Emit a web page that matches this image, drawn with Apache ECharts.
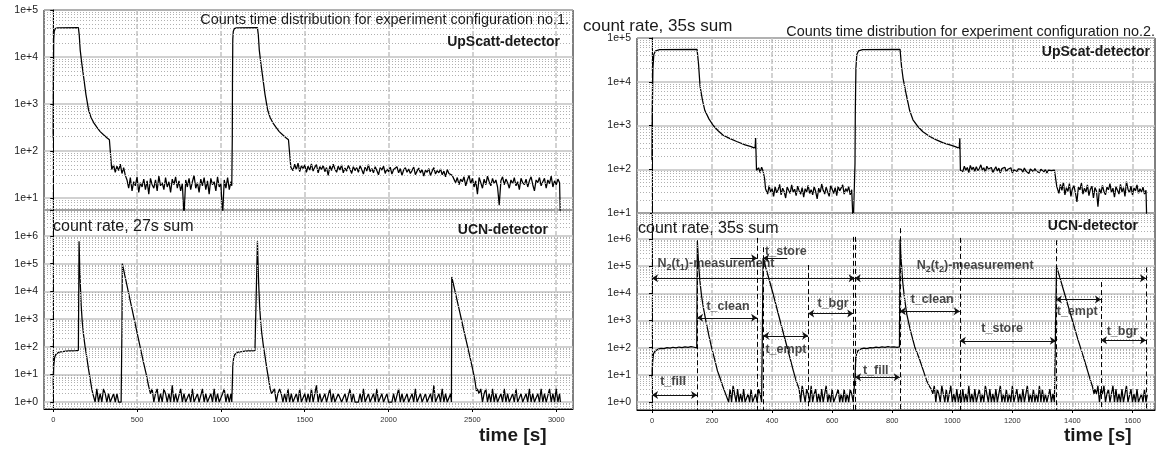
<!DOCTYPE html>
<html><head><meta charset="utf-8">
<script src="https://cdn.jsdelivr.net/npm/echarts@6/dist/echarts.min.js"></script>
<style>html,body{margin:0;padding:0;background:#fff}#c{width:1157px;height:450px}</style>
</head><body><div id="c"></div>
<script>
// ---------- DATA ----------
// bin widths (s) of the noisy histogram sections
const BIN1 = 10;   // configuration no.1
const BIN2 = 5;    // configuration no.2

// Configuration 1, UpScatt-detector
const up1_fill1 = [[0,190],[1,2500],[3,24000],[6,35000],[12,40000],[25,41500],[150,42000],[155,30000],[161,14000],[170,7500],[181,3800],[195,1600],[211,740],[225,520],[241,400],[260,320],[280,257],[300,220],[320,190],[335,172],[346,158],[349,40]];
const up1_noise1_t0 = 350;
const up1_noise1 = [42,50,35,47,38,52,33,44,30];
const up1_noise2_t0 = 440;
const up1_noise2 = [24,16,27,14,22,18,28,13,21,17, 25,15,23,12,26,19,16,24,14,29, 18,21,15,27,17,22,13,25,19,28, 16,23,14,20,4,24,17,26,15,22, 30,16,21,13,25,18,27,15,23,12, 26,19,22,14,28,17,20,4,24,16, 27,15,22];
const up1_fill2 = [[1065,18],[1068,190],[1069,2500],[1071,24000],[1074,35000],[1080,40000],[1093,41500],[1218,42000],[1223,30000],[1229,14000],[1238,7500],[1249,3800],[1263,1600],[1279,740],[1293,520],[1309,400],[1328,320],[1348,257],[1368,220],[1388,190],[1403,172],[1414,158],[1417,45]];
const up1_noise3_t0 = 1420;
const up1_noise3 = [46,38,52,40,55,36,48,42,50,35, 47,39,53,37,45,51,34,46,40,49, 36,44,30,48,38,52,41,35,47,39, 50,34,43,37,49,41,33,46,38,44,
  35,48,40,32,45,37,51,36,42,34, 46,38,31,44,39,47,33,41,36,45, 32,40,37,46,34,42,30,39,44,35, 41,33,38,45,31,37,43,34,40,29,
  39,35,42,30,37,44,32,38,34,41, 31,37,28,40,33,36,30,25,21,27, 19,25,22,28,18,24,30,20,26,17, 23,12,27,21,16,25,19,29,22,18,
  26,20,24,17,7,23,28,19,25,21, 16,24,20,27,18,22,15,26,21,19, 25,17,23,28,19,14,24,21,27,18, 22,26,16,24,20,29,17,23,19,25, 21];
const up1_end = [[3025,3]];

// Configuration 1, UCN-detector
const ucn1_fill1 = [[0,4],[3,20],[8,40],[15,52],[25,60],[35,64],[45,68],[55,66],[65,71],[75,69],[85,73],[95,70],[105,74],[115,71],[125,75],[135,72],[145,76],[150,74],[154,640000],[158,80000],[162,15000],[167,3000],[173,800],[180,300],[190,100],[200,42],[210,16],[220,7],[230,3],[236,2]];
const ucn1_noise1_t0 = 240;
const ucn1_noise1 = [2,1,3,1,2,1,3,2,1,2,1,1,2,1,2,1,1];
const ucn1_empty1 = [[405,1],[410,1],[410,530],[412,100000],[450,8500],[480,1200],[510,170],[539,26],[555,10],[568,4]];
const ucn1_noise2_t0 = 580;
const ucn1_noise2 = [2,3,1,2,3,1,2,1,3,2, 1,2,1,4,1,2,1,1,3,1, 2,1,1,2,1,3,1,1,2,1, 1,3,1,2,1,1,2,1,3,1, 2,1,1,2,3,1,2,1,2];
const ucn1_fill2 = [[1065,1],[1068,4],[1071,20],[1076,40],[1083,52],[1093,60],[1103,64],[1113,68],[1123,66],[1133,71],[1143,69],[1153,73],[1163,70],[1173,74],[1183,71],[1193,75],[1203,72],[1210,76],[1214,74],[1218,640000],[1222,80000],[1226,15000],[1231,3000],[1237,800],[1244,300],[1254,100],[1264,42],[1274,16],[1284,7],[1294,3],[1302,2]];
const ucn1_noise3_t0 = 1310;
const ucn1_noise3 = [2,3,1,2,3,2,1,2,1,3, 1,2,1,1,2,1,3,1,1,2, 1,2,1,3,1,1,4,1,2,1, 1,2,1,1,3,1,2,1,1,2, 2,1,1,2,1,1,3,1,2,1,
  1,1,2,1,3,1,1,2,1,1, 2,1,3,1,1,2,1,1,2,1, 1,1,2,1,1,3,1,2,1,1, 2,1,1,2,1,3,1,1,2,1, 1,2,1,1,2,1,4,1,1,2, 1,3,1,2,1,1,2];
const ucn1_empty2 = [[2375,1],[2377,33000],[2400,8100],[2430,1260],[2460,200],[2490,32],[2503,14],[2515,6],[2524,2.5]];
const ucn1_noise4_t0 = 2530;
const ucn1_noise4 = [3,2,3,1,2,3,1,2,1,3, 1,2,1,1,2,1,3,1,2,1, 1,2,1,3,1,1,2,1,1,2, 1,3,1,2,1,1,2,1,3,1, 2,1,1,3,1,2,1,3,1,2];
const ucn1_end = [[3025,1]];

// Configuration 2, UpScat-detector
const up2_fill1 = [[0,162],[1,2000],[3,20000],[6,42000],[12,51000],[25,54000],[150,55000],[155,25000],[160,7800],[168,3800],[176,2200],[190,1400],[204,1000],[220,760],[237,600],[260,500],[282,430],[310,360],[330,330],[343,300],[345,520],[348,95]];
const up2_noise1_t0 = 350;
const up2_noise1 = [98,108,84,112,90];
const up2_drop1 = [[375,60],[378,36]];
const up2_noise2_t0 = 380;
const up2_noise2 = [38,27,42,30,36,24,40,29,34,45, 26,37,31,22,39,33,28,44,30,35, 25,41,32,27,38,23,36,30,43,28, 34,26,40,31,21,37,29,46,33,27, 39,30,24,42,35,28,38,25,41,32, 29,44,27,36,31,40,26,34];
const up2_fill2 = [[670,5],[675,5],[676,138],[677,2000],[679,20000],[682,42000],[688,51000],[701,54000],[826,55000],[831,22000],[836,12000],[848,4600],[858,2200],[869,1350],[885,950],[902,720],[925,560],[947,470],[970,400],[992,360],[1010,330],[1023,300],[1025,510],[1027,95]];
const up2_noise3_t0 = 1030;
const up2_noise3 = [105,88,118,95,110,84,122,98,112,90, 115,93,104,126,96,108,86,117,101,92, 110,85,99,114,91,106,82,103,97,111, 88,100,94,108,83,97,105,89,102,93, 99,86,107,91,96,80,101,94,88,104, 90,97,84,100,92,87,98,82,95,89, 93,85,96,88];
const up2_drop2 = [[1347,88],[1348,40]];
const up2_noise4_t0 = 1350;
const up2_noise4 = [40,28,45,33,50,26,38,31,47,24, 36,42,29,18,39,34,48,27,37,30, 44,25,35,41,22,38,32,14,36,28, 43,31,26,39,34,47,29,37,23,40, 33,27,45,30,38,24,52,35,29,41, 26,37,32,44,28,36,30,39,27,33];
const up2_end = [[1648,5]];

// Configuration 2, UCN-detector
const ucn2_fill1 = [[0,8],[2,30],[5,60],[10,75],[20,88],[30,95],[40,92],[50,100],[60,97],[70,104],[80,99],[90,106],[100,101],[110,108],[120,103],[130,110],[140,104],[149,98],[151,850000],[155,120000],[160,25000],[165,8000],[171,3000],[180,900],[190,260],[199,95],[210,32],[218,14],[226,8],[235,4],[245,2]];
const ucn2_noise1_t0 = 250;
const ucn2_noise1 = [2,1,3,1,4,2,1,3,1,2,1,3,1,1,2,1,3,1,1,2,1,3,2,1];
const ucn2_empty1 = [[368,1],[370,200000],[372,190000],[400,13000],[430,700],[460,40],[470,15],[480,6],[486,4]];
const ucn2_noise2_t0 = 490;
const ucn2_noise2 = [3,1,4,2,1,3,2,1,4,1, 2,3,1,2,1,3,1,2,4,1, 2,1,3,1,1,2,3,1,2,1, 3,1,2,1,3,2,1];
const ucn2_fill2 = [[674,1],[676,8.5],[678,30],[681,60],[686,78],[696,90],[706,96],[716,93],[726,101],[736,98],[746,105],[756,100],[766,107],[776,102],[786,109],[796,104],[806,108],[816,103],[824,107],[826,950000],[830,150000],[835,25000],[840,8000],[848,1800],[860,450],[875,107],[890,40],[903,15],[915,6],[925,3.6]];
const ucn2_noise3_t0 = 930;
const ucn2_noise3 = [3,2,4,1,3,2,1,4,2,1, 3,1,2,4,1,2,1,3,1,2, 1,3,1,2,1,4,1,2,1,3, 1,1,3,1,2,1,4,2,1,3, 1,2,1,3,1,1,4,1,2,1, 3,1,2,1,4,1,1,3,1,2, 1,3,1,2,4,1,2,1,3,1, 2,1,4,1,3,1,2,1,1,3, 1,2,1];
const ucn2_empty2 = [[1344,1],[1347,100000],[1380,5700],[1419,190],[1440,35],[1458,7.4],[1466,4],[1472,2]];
const ucn2_noise4_t0 = 1475;
const ucn2_noise4 = [3,2,4,1,3,2,4,1,2,3, 1,2,4,1,3,1,2,1,3,1, 2,4,1,1,3,1,2,1,3,1, 1,2,1,3,1,2];

// Annotations (configuration 2, UCN panel): [time, top of dashed line]
const phaseLines = [[150,9e5],[350,1.1e6],[370,5e5],[520,1.1e5],[670,1.2e6],[676,1.2e6],[825,2.5e6],[1025,1.1e6],[1345,9e5],[1495,2.6e4],[1645,9e4]];
// double arrows: [from, to, level]
const phaseArrows = [[0,150,1.8],[150,350,1260],[370,520,275],[520,670,1800],[0,675,36000],[675,1645,36000],[676,825,8.1],[825,1025,2200],[1025,1345,180],[1345,1495,6000],[1495,1645,190]];
// single arrows (narrow t_store interval): [from, to(arrow head), level]
const storeArrows = [[260,350,1.95e5],[450,370,1.95e5]];
// labels: [time, level, text]
const phaseLabels = [[70,5.6,'t_fill'],[253,3200,'t_clean'],[446,3.6e5,'t_store'],[213,1.2e5,'N2(t1)'],[446,89,'t_empt'],[603,4300,'t_bgr'],
  [745,15,'t_fill'],[933,5700,'t_clean'],[1166,490,'t_store'],[1076,1.04e5,'N2(t2)'],[1416,2100,'t_empt'],[1566,386,'t_bgr']];

// ---------- BUILD ----------
function bins(t0, dt, vals){ return vals.map((v,i)=>[t0+i*dt, v]); }
const up1Data = [].concat(up1_fill1, bins(up1_noise1_t0,BIN1,up1_noise1), bins(up1_noise2_t0,BIN1,up1_noise2), up1_fill2, bins(up1_noise3_t0,BIN1,up1_noise3), up1_end);
const ucn1Data = [].concat(ucn1_fill1, bins(ucn1_noise1_t0,BIN1,ucn1_noise1), ucn1_empty1, bins(ucn1_noise2_t0,BIN1,ucn1_noise2), ucn1_fill2, bins(ucn1_noise3_t0,BIN1,ucn1_noise3), ucn1_empty2, bins(ucn1_noise4_t0,BIN1,ucn1_noise4), ucn1_end);
const up2Data = [].concat(up2_fill1, bins(up2_noise1_t0,BIN2,up2_noise1), up2_drop1, bins(up2_noise2_t0,BIN2,up2_noise2), up2_fill2, bins(up2_noise3_t0,BIN2,up2_noise3), up2_drop2, bins(up2_noise4_t0,BIN2,up2_noise4), up2_end);
const ucn2Data = [].concat(ucn2_fill1, bins(ucn2_noise1_t0,BIN2,ucn2_noise1), ucn2_empty1, bins(ucn2_noise2_t0,BIN2,ucn2_noise2), ucn2_fill2, bins(ucn2_noise3_t0,BIN2,ucn2_noise3), ucn2_empty2, bins(ucn2_noise4_t0,BIN2,ucn2_noise4));

const FONT = 'Liberation Sans, Arial, Helvetica, sans-serif';
const yRanges = [[5.5,1e5],[0.56,8.7e6],[10,1e5],[0.51,9.06e6]];

function minorGrid(min, max){
  const out = [];
  for (let e=-1; e<=7; e++) for (let m=2; m<=9; m++){ const v = m*Math.pow(10,e); if (v>min*1.0001 && v<max*0.9999) out.push({yAxis:v}); }
  return out;
}
function logLabel(v){ const e=Math.log10(v), r=Math.round(e); return Math.abs(e-r)<1e-6 ? '1e+'+r : ''; }

const grids = [
  {left:44, top:10, width:529, height:200},
  {left:44, top:210, width:529, height:199},
  {left:637, top:38, width:518, height:175},
  {left:637, top:213, width:518, height:197}
].map(g=>Object.assign(g,{show:true, borderColor:'#000', borderWidth:1, backgroundColor:'transparent'}));

function xAx(i, min, max, split, step, labels){
  return {gridIndex:i, type:'value', min:min, max:max, splitNumber:split,
    axisLine:{show:labels, lineStyle:{color:'#000'}},
    axisTick:{show:labels, length:3, lineStyle:{color:'#000'}},
    axisLabel:{show:labels, fontSize:7.5, color:'#333', fontFamily:FONT, margin:7, showMinLabel:false, showMaxLabel:false,
      formatter:v=> (Math.abs(v % step) < 1e-9 ? String(v) : '')},
    splitLine:{show:true, showMinLine:false, showMaxLine:false, lineStyle:{color:'#c4c4c4', width:1.5, type:[5,2]}}};
}
function yAx(i){
  return {gridIndex:i, type:'log', logBase:10, min:yRanges[i][0], max:yRanges[i][1], splitNumber:10,
    axisLine:{show:true, lineStyle:{color:'#000'}},
    axisTick:{show:true, length:3, lineStyle:{color:'#000'}},
    axisLabel:{fontSize:10.5, color:'#222', fontFamily:FONT, margin:6, formatter:logLabel},
    splitLine:{show:true, showMinLine:false, lineStyle:{color:'#c2c2c2', width:1.5}},
    minorTick:{show:false}};
}

const series = [];
[up1Data, ucn1Data, up2Data, ucn2Data].forEach((d,i)=>{
  series.push({type:'line', xAxisIndex:i, yAxisIndex:i, data:[], silent:true, z:1,
    markLine:{silent:true, symbol:'none', animation:false, label:{show:false},
      lineStyle:{color:'#b0b0b0', type:[1,2], width:1}, data:minorGrid(yRanges[i][0], yRanges[i][1])}});
  series.push({type:'line', xAxisIndex:i, yAxisIndex:i, data:d, showSymbol:false, symbol:'none', clip:true, z:3,
    lineStyle:{color:'#000', width:1.25}, silent:true});
});

// annotations
const annLines = [];
phaseLines.forEach(p=>annLines.push([{coord:[p[0],p[1]], symbol:'none'},{coord:[p[0],0.51], symbol:'none', lineStyle:{type:[5,3], color:'#000', width:1}}]));
phaseArrows.forEach(a=>annLines.push([{coord:[a[0],a[2]], symbol:'arrow'},{coord:[a[1],a[2]], symbol:'arrow'}]));
storeArrows.forEach(a=>annLines.push([{coord:[a[0],a[2]], symbol:'none'},{coord:[a[1],a[2]], symbol:'arrow'}]));

function annText(name){
  if (name==='N2(t1)') return '{b|N}{s|2}{b|(t}{s|1}{b|)-measurement}';
  if (name==='N2(t2)') return '{b|N}{s|2}{b|(t}{s|2}{b|)-measurement}';
  return '{b|'+name+'}';
}
series.push({type:'scatter', xAxisIndex:3, yAxisIndex:3, z:6, silent:true,
  data: phaseLabels.map(l=>({value:[l[0],l[1]], name:l[2]})),
  symbolSize:1, itemStyle:{color:'rgba(0,0,0,0)'},
  label:{show:true, position:'inside', formatter:p=>annText(p.name),
    rich:{ b:{fontSize:12.5, fontWeight:'bold', color:'#1a1a1a', fontFamily:FONT, lineHeight:16},
           s:{fontSize:9, fontWeight:'bold', color:'#1a1a1a', fontFamily:FONT, lineHeight:9, verticalAlign:'bottom'} }},
  markLine:{silent:true, animation:false, symbolSize:6, label:{show:false},
    lineStyle:{color:'#111', width:1, type:'solid'}, data:annLines}
});

function txt(x,y,text,font,align){
  return {type:'text', x:x, y:y, z:100, silent:true,
    style:{text:text, font:font, fill:'#1a1a1a', textAlign:align, textVerticalAlign:'middle', align:align, verticalAlign:'middle'}};
}

const option = {
  animation:false,
  backgroundColor:'#fff',
  grid: grids,
  xAxis: [xAx(0,-55,3100,6,500,false), xAx(1,-55,3100,6,500,true), xAx(2,-50,1675,8,200,false), xAx(3,-50,1675,8,200,true)],
  yAxis: [yAx(0), yAx(1), yAx(2), yAx(3)],
  series: series,
  graphic: [
    txt(569,20,'Counts time distribution for experiment configuration no.1.','14.4px '+FONT,'right'),
    txt(560,42,'UpScatt-detector','bold 14px '+FONT,'right'),
    txt(53,227,'count rate, 27s sum','16px '+FONT,'left'),
    txt(548,230,'UCN-detector','bold 14px '+FONT,'right'),
    txt(479,436,'time [s]','bold 19px '+FONT,'left'),
    txt(583,26,'count rate, 35s sum','17px '+FONT,'left'),
    txt(1155,32,'Counts time distribution for experiment configuration no.2.','14.4px '+FONT,'right'),
    txt(1150,52,'UpScat-detector','bold 14px '+FONT,'right'),
    txt(638,229,'count rate, 35s sum','16px '+FONT,'left'),
    txt(1138,226,'UCN-detector','bold 14px '+FONT,'right'),
    txt(1064,436,'time [s]','bold 19px '+FONT,'left')
  ]
};
const chart = echarts.init(document.getElementById('c'), null, {renderer:'canvas'});
chart.setOption(option);
</script></body></html>
